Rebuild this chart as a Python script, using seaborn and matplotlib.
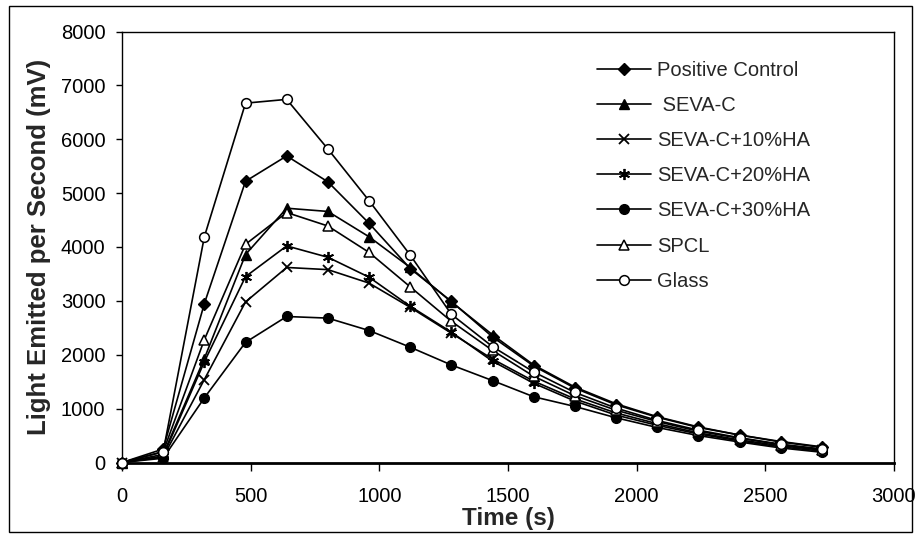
import matplotlib
matplotlib.use("Agg")
import matplotlib.pyplot as plt
from matplotlib.patches import Rectangle
import seaborn as sns

# ---- data ----
time_s = [0, 160, 320, 480, 640, 800, 960, 1120, 1280, 1440, 1600, 1760, 1920, 2080, 2240, 2400, 2560, 2720]

positive_control = [0, 250, 2950, 5220, 5690, 5210, 4440, 3600, 2990, 2330, 1790, 1380, 1070, 840, 650, 510, 380, 280]
seva_c = [0, 150, 1930, 3860, 4720, 4660, 4190, 3620, 2980, 2370, 1810, 1400, 1090, 850, 660, 510, 390, 290]
seva_c_10ha = [0, 100, 1540, 2980, 3620, 3580, 3330, 2880, 2400, 1920, 1510, 1180, 920, 720, 550, 420, 310, 230]
seva_c_20ha = [0, 120, 1870, 3450, 4020, 3810, 3440, 2900, 2420, 1880, 1470, 1140, 880, 690, 530, 400, 290, 210]
seva_c_30ha = [0, 80, 1200, 2230, 2710, 2680, 2450, 2140, 1810, 1520, 1220, 1040, 830, 650, 500, 380, 270, 190]
spcl = [0, 200, 2280, 4050, 4640, 4390, 3900, 3260, 2620, 2080, 1600, 1240, 970, 760, 580, 450, 330, 240]
glass = [0, 200, 4190, 6670, 6740, 5820, 4860, 3850, 2750, 2150, 1680, 1300, 1010, 780, 600, 460, 340, 250]

series_names = ["Positive Control", " SEVA-C", "SEVA-C+10%HA", "SEVA-C+20%HA",
                "SEVA-C+30%HA", "SPCL", "Glass"]
series_values = [positive_control, seva_c, seva_c_10ha, seva_c_20ha, seva_c_30ha, spcl, glass]

x_ticks = [0, 500, 1000, 1500, 2000, 2500, 3000]
y_ticks = [0, 1000, 2000, 3000, 4000, 5000, 6000, 7000, 8000]

# ---- styles ----
styles = [
    dict(marker="D", markersize=6.5, markerfacecolor="black", markeredgewidth=1.0),
    dict(marker="^", markersize=7.5, markerfacecolor="black", markeredgewidth=1.0),
    dict(marker="x", markersize=7.5, markerfacecolor="black", markeredgewidth=1.3),
    dict(marker=(6, 2, 0), markersize=8, markerfacecolor="black", markeredgewidth=1.3),
    dict(marker="o", markersize=7, markerfacecolor="black", markeredgewidth=1.0),
    dict(marker="^", markersize=7.5, markerfacecolor="white", markeredgewidth=1.1),
    dict(marker="o", markersize=7, markerfacecolor="white", markeredgewidth=1.1),
]

sns.set_style("ticks")
plt.rcParams["font.family"] = ["Liberation Sans", "DejaVu Sans"]

fig = plt.figure(figsize=(9.19, 5.38), dpi=100)
ax = fig.add_axes([122 / 919, (538 - 462.5) / 538, 772 / 919, 431 / 538])

for name, vals, st in zip(series_names, series_values, styles):
    sns.lineplot(x=time_s, y=vals, ax=ax, color="black", linewidth=1.2,
                 markeredgecolor="black", label=name, clip_on=False, zorder=3, **st)

ax.set_xlim(0, 3000)
ax.set_ylim(0, 8000)
ax.set_xticks(x_ticks)
ax.set_yticks(y_ticks)
ax.tick_params(axis="y", direction="out", length=4, width=1, labelsize=14.5, pad=8, colors="black")
ax.tick_params(axis="x", direction="out", length=6, width=1, labelsize=14.5, pad=12, colors="black")

for side in ["top", "right", "left"]:
    ax.spines[side].set_visible(True)
    ax.spines[side].set_linewidth(1.0)
    ax.spines[side].set_color("black")
ax.spines["bottom"].set_linewidth(2.0)
ax.spines["bottom"].set_color("black")

ax.set_xlabel("Time (s)", fontsize=17.5, fontweight="bold")
ax.set_ylabel("Light Emitted per Second (mV)", fontsize=18.5, fontweight="bold")
ax.xaxis.set_label_coords(0.5, -0.103)
ax.yaxis.set_label_coords(-0.092, 0.5)

leg = ax.legend(loc="upper left", bbox_to_anchor=(597 / 919, (538 - 61) / 538),
                bbox_transform=fig.transFigure, frameon=False, fontsize=14.5,
                handlelength=2.7, handletextpad=0.3, labelspacing=0.8,
                borderpad=0, borderaxespad=0, numpoints=1)

fig.patches.append(Rectangle((9 / 919, 6 / 538), (912 - 9) / 919, (532 - 6) / 538,
                             transform=fig.transFigure, fill=False,
                             edgecolor="black", linewidth=1.0))

fig.savefig("out.png", dpi=100, facecolor="white")
